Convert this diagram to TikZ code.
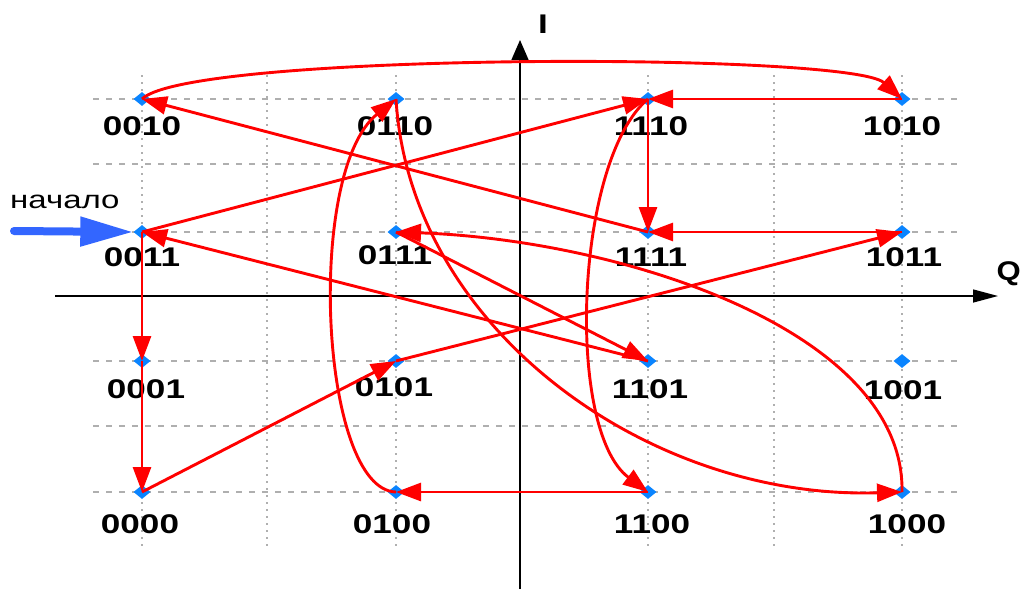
\documentclass[tikz,border=0pt]{standalone}
\usepackage{fontspec}
\usepackage{graphicx}
\setmainfont{Liberation Sans}
\usetikzlibrary{shapes.geometric,arrows.meta}
\definecolor{ptblue}{RGB}{10,132,255}
\definecolor{startblue}{RGB}{51,102,255}
\definecolor{gridgray}{RGB}{175,175,175}
\newcommand{\lab}[1]{\scalebox{1.3}[1]{#1}}
\begin{document}
\begin{tikzpicture}[x=1pt,y=-1pt,
  ptmark/.style={diamond, fill=ptblue, inner sep=0pt, minimum width=17pt, minimum height=14pt},
  lbl/.style={font=\bfseries\fontsize{27}{27}\selectfont, anchor=base, inner sep=0pt},
  hgrid/.style={gridgray, line width=1.5pt, dash pattern=on 6pt off 7pt},
  vgrid/.style={gridgray, line width=1.7pt, dash pattern=on 2pt off 5pt},
  axis/.style={black, line width=1.4pt},
  redarr/.style={red, line width=2.9pt, -{Triangle[length=25pt,width=18pt]}}
]
\useasboundingbox (0,0) rectangle (1022,589);
% grid
\foreach \yy in {99,164,232,296,361,426,492}
  \draw[hgrid] (93,\yy) -- (958,\yy);
\foreach \xx in {142,267,396,520,648,774,902}
  \draw[vgrid] (\xx,75) -- (\xx,550);
% axes
\coordinate (qs) at (55,296);
\coordinate (qe) at (998,296);
\coordinate (is) at (520,589);
\coordinate (ie) at (520,40);
\draw[axis, -{Triangle[length=25pt,width=13pt]}] (qs) -- (qe);
\draw[axis, -{Triangle[length=20pt,width=17pt]}] (is) -- (ie);
\node[lbl, anchor=base] (lI) at (543,33) {\lab{I}};
\node[lbl, anchor=base east] (lQ) at (1021,280) {\scalebox{1.15}[1]{Q}};
% points
\node[ptmark] (p0010) at (142,99) {};
\node[ptmark] (p0110) at (396,99) {};
\node[ptmark] (p1110) at (648,99) {};
\node[ptmark] (p1010) at (902,99) {};
\node[ptmark] (p0011) at (142,232) {};
\node[ptmark] (p0111) at (396,232) {};
\node[ptmark] (p1111) at (648,232) {};
\node[ptmark] (p1011) at (902,232) {};
\node[ptmark] (p0001) at (142,361) {};
\node[ptmark] (p0101) at (396,361) {};
\node[ptmark] (p1101) at (648,361) {};
\node[ptmark] (p1001) at (902,361) {};
\node[ptmark] (p0000) at (142,492) {};
\node[ptmark] (p0100) at (396,492) {};
\node[ptmark] (p1100) at (648,492) {};
\node[ptmark] (p1000) at (902,492) {};
% labels
\node[lbl] (l0010) at (142,135) {\lab{0010}};
\node[lbl] (l0110) at (395,135) {\lab{0110}};
\node[lbl] (l1110) at (651,135) {\lab{1110}};
\node[lbl] (l1010) at (902,135) {\lab{1010}};
\node[lbl] (l0011) at (142,266) {\lab{0011}};
\node[lbl] (l0111) at (395,264) {\lab{0111}};
\node[lbl] (l1111) at (651,266) {\lab{1111}};
\node[lbl] (l1011) at (904,266) {\lab{1011}};
\node[lbl] (l0001) at (146,398) {\lab{0001}};
\node[lbl] (l0101) at (394,396) {\lab{0101}};
\node[lbl] (l1101) at (650,398) {\lab{1101}};
\node[lbl] (l1001) at (903,399) {\lab{1001}};
\node[lbl] (l0000) at (140,533) {\lab{0000}};
\node[lbl] (l0100) at (392,533) {\lab{0100}};
\node[lbl] (l1100) at (652,533) {\lab{1100}};
\node[lbl] (l1000) at (907,533) {\lab{1000}};
% start marker
\node[font=\fontsize{25}{25}\selectfont, anchor=base west, inner sep=0pt] (start) at (10,208) {\scalebox{1.32}[1]{начало}};
\coordinate (st) at (14,231);
\draw[startblue, line width=8pt, line cap=round, -{Triangle[length=53pt,width=28pt]}] (st) -- (p0011.west);
% transitions
\draw[redarr] (p0011.center) -- (p0001.center);
\draw[redarr] (p0001.center) -- (p0000.center);
\draw[redarr] (p0000.center) -- (p0101.center);
\draw[redarr] (p0101.center) -- (p1011.center);
\draw[redarr] (p1011.center) -- (p1111.center);
\draw[redarr] (p1111.center) -- (p0010.center);
\draw[redarr] (p0010.center) .. controls (190,52) and (850,52) .. (p1010.center);
\draw[redarr] (p1010.center) -- (p1110.center);
\draw[redarr] (p1110.center) -- (p1111.center);
\draw[redarr] (p0011.center) -- (p1110.center);
\draw[redarr] (p1101.center) -- (p0011.center);
\draw[redarr] (p0111.center) -- (p1101.center);
\draw[redarr] (p0110.center) .. controls (410,330) and (650,500) .. (p1000.center);
\draw[redarr] (p1000.center) .. controls (905,330) and (620,240) .. (p0111.center);
\draw[redarr] (p0100.center) .. controls (320,490) and (305,172) .. (p0110.center);
\draw[redarr] (p1100.center) -- (p0100.center);
\draw[redarr] (p1110.center) .. controls (575,160) and (565,430) .. (p1100.center);
\end{tikzpicture}
\end{document}
